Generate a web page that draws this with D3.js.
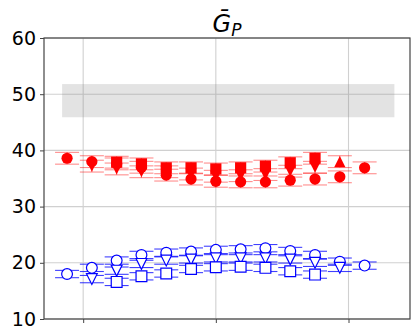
<!DOCTYPE html>
<head>
  <meta charset="utf-8">
  <script src="https://d3js.org/d3.v7.min.js"></script>
  <style>
    body { margin:0; background:#fff; }
  </style>
</head>
<body>
  <script>
    // x positions of the measurements (index units), grid ticks and y ticks
    var xs = [0, 1, 2, 3, 4, 5, 6, 7, 8, 9, 10, 11, 12];
    var xTicks = [0.65, 6, 11.35];
    var yTicks = [10, 20, 30, 40, 50, 60];

    // grey reference band
    var bandY = [45.9, 51.8];
    var bandX = [-0.2, 13.2];

    // red series (filled markers)
    var redCircle  = [38.6, 38.0, 37.6, 37.0, 35.6, 34.9, 34.5, 34.4, 34.4, 34.7, 34.9, 35.3, 36.9];
    var redTriDown = [null, 37.2, 36.7, 36.2, 36.2, 35.8, 35.4, 35.5, 35.7, 36.3, 37.0, null, null];
    var redSquare  = [null, null, 37.9, 37.6, 36.9, 36.9, 36.7, 36.9, 37.2, 37.8, 38.6, null, null];
    var redTriUp   = [null, null, null, null, null, null, null, null, null, null, null, 38.0, null];
    var redErr = 1.05;

    // blue series (open markers)
    var blueCircle  = [18.0, 19.1, 20.4, 21.4, 21.8, 22.0, 22.3, 22.4, 22.6, 22.1, 21.4, 20.2, 19.5];
    var blueTriDown = [null, 17.1, 18.6, 19.8, 20.4, 20.6, 20.8, 20.8, 20.8, 20.6, 20.0, 19.1, null];
    var blueSquare  = [null, null, 16.6, 17.6, 18.1, 18.9, 19.2, 19.3, 19.1, 18.5, 17.9, null, null];
    var blueErr = 0.65;

    var width = 412, height = 331;
    var margin = {left: 44, right: 2, top: 38, bottom: 12};

    var svg = d3.select("body").append("svg")
      .attr("width", width)
      .attr("height", height);

    var x = d3.scaleLinear().domain([-0.93, 13.83]).range([margin.left, width - margin.right]);
    var y = d3.scaleLinear().domain([10, 60]).range([height - margin.bottom, margin.top]);

    // grid
    svg.append("g").selectAll("line").data(xTicks).enter().append("line")
      .attr("x1", d => x(d)).attr("x2", d => x(d))
      .attr("y1", y(10)).attr("y2", y(60))
      .attr("stroke", "#d0d0d0").attr("stroke-width", 1.1);
    svg.append("g").selectAll("line").data(yTicks).enter().append("line")
      .attr("x1", x.range()[0]).attr("x2", x.range()[1])
      .attr("y1", d => y(d)).attr("y2", d => y(d))
      .attr("stroke", "#d0d0d0").attr("stroke-width", 1.1);

    // band
    svg.append("rect")
      .attr("x", x(bandX[0])).attr("width", x(bandX[1]) - x(bandX[0]))
      .attr("y", y(bandY[1])).attr("height", y(bandY[0]) - y(bandY[1]))
      .attr("fill", "#808080").attr("fill-opacity", 0.22);

    // marker shapes, r = half of marker box
    function markerPath(type, r) {
      if (type == "circle") {
        return "M" + r + ",0A" + r + "," + r + " 0 1,1 " + (-r) + ",0A" + r + "," + r + " 0 1,1 " + r + ",0Z";
      }
      if (type == "square") {
        return "M" + (-r) + "," + (-r) + "H" + r + "V" + r + "H" + (-r) + "Z";
      }
      if (type == "down") {
        return "M" + (-r) + "," + (-r) + "H" + r + "L0," + r + "Z";
      }
      // up
      return "M" + (-r) + "," + r + "H" + r + "L0," + (-r) + "Z";
    }

    function drawSeries(vals, err, type, color, filled) {
      var pts = xs.map((k, i) => ({k: k, v: vals[i]})).filter(d => d.v != null);
      var g = svg.append("g");
      var eb = g.append("g")
        .attr("stroke", color)
        .attr("stroke-opacity", filled ? 0.45 : 0.75)
        .attr("stroke-width", 1.1);
      pts.forEach(function(d) {
        var cx = x(d.k);
        eb.append("line").attr("x1", cx).attr("x2", cx)
          .attr("y1", y(d.v - err)).attr("y2", y(d.v + err));
        [d.v - err, d.v + err].forEach(function(e) {
          eb.append("line").attr("x1", cx - 12).attr("x2", cx + 12)
            .attr("y1", y(e)).attr("y2", y(e));
        });
      });
      g.selectAll("path").data(pts).enter().append("path")
        .attr("transform", d => "translate(" + x(d.k) + "," + y(d.v) + ")")
        .attr("d", markerPath(type, filled ? 5.6 : 5.4))
        .attr("fill", filled ? color : "#fff")
        .attr("stroke", color)
        .attr("stroke-width", filled ? 0 : 1.2);
    }

    drawSeries(redCircle, redErr, "circle", "#ff0000", true);
    drawSeries(redTriDown, redErr, "down", "#ff0000", true);
    drawSeries(redSquare, redErr, "square", "#ff0000", true);
    drawSeries(redTriUp, redErr, "up", "#ff0000", true);

    drawSeries(blueCircle, blueErr, "circle", "#0000ff", false);
    drawSeries(blueTriDown, blueErr, "down", "#0000ff", false);
    drawSeries(blueSquare, blueErr, "square", "#0000ff", false);

    // frame
    svg.append("rect")
      .attr("x", x.range()[0]).attr("y", y(60))
      .attr("width", x.range()[1] - x.range()[0]).attr("height", y(10) - y(60))
      .attr("fill", "none").attr("stroke", "#444").attr("stroke-width", 1.2);

    // y axis
    var yAxis = svg.append("g")
      .attr("transform", "translate(" + x.range()[0] + ",0)")
      .call(d3.axisLeft(y).tickValues(yTicks).tickSize(4).tickPadding(4));
    yAxis.select(".domain").remove();
    yAxis.selectAll("text").attr("font-family", "DejaVu Sans").attr("font-size", 19).attr("fill", "#000");
    yAxis.selectAll("line").attr("stroke", "#444");

    // x ticks, no labels
    var xAxis = svg.append("g")
      .attr("transform", "translate(0," + y(10) + ")")
      .call(d3.axisBottom(x).tickValues(xTicks).tickSize(4).tickFormat(""));
    xAxis.select(".domain").remove();
    xAxis.selectAll("line").attr("stroke", "#444");

    // title
    var title = svg.append("text")
      .attr("x", (x.range()[0] + x.range()[1]) / 2)
      .attr("y", 32)
      .attr("text-anchor", "middle")
      .attr("font-family", "DejaVu Sans")
      .attr("font-style", "italic")
      .attr("font-size", 24)
      .attr("fill", "#000");
    title.append("tspan").text("\u1E20");
    title.append("tspan").attr("font-size", 17).attr("dy", 4).text("P");
  </script>
</body>
